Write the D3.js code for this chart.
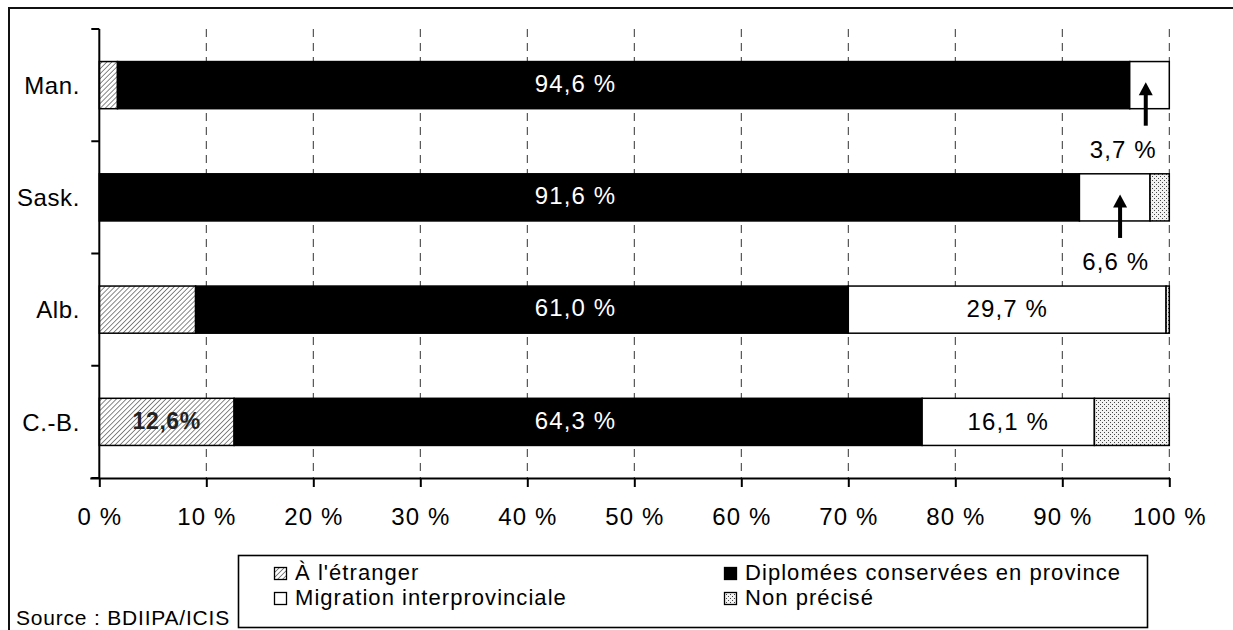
<!DOCTYPE html>
<html>
<head>
<meta charset="utf-8">
<script src="https://cdn.jsdelivr.net/npm/d3@7"></script>
<style>
  html, body { margin: 0; padding: 0; background: #fff; }
  svg { display: block; font-family: "Liberation Sans", Arial, sans-serif; }
</style>
</head>
<body>
<svg id="chart" width="1233" height="630"></svg>
<script>
// Provinces (top to bottom) and the share of graduates in each destination (%)
const provinces = ["Man.", "Sask.", "Alb.", "C.-B."];
const etranger    = [1.7, 0.0, 9.0, 12.6];
const conservees  = [94.6, 91.6, 61.0, 64.3];
const migration   = [3.7, 6.6, 29.7, 16.1];
const nonPrecise  = [0.0, 1.8, 0.3, 7.0];

const seriesKeys   = ["etranger", "conservees", "migration", "nonPrecise"];
const seriesNames  = ["À l'étranger", "Diplomées conservées en province",
                      "Migration interprovinciale", "Non précisé"];
const xTickValues  = [0, 10, 20, 30, 40, 50, 60, 70, 80, 90, 100];
const xTickLabels  = ["0 %", "10 %", "20 %", "30 %", "40 %", "50 %",
                      "60 %", "70 %", "80 %", "90 %", "100 %"];
const sourceText   = "Source : BDIIPA/ICIS";

const fmt = v => v.toFixed(1).replace(".", ",");

const rows = provinces.map((p, i) => ({
  province: p,
  etranger: etranger[i],
  conservees: conservees[i],
  migration: migration[i],
  nonPrecise: nonPrecise[i]
}));

const FS = 24, LS = 1.1;

const svg = d3.select("#chart");

// Fill patterns
const defs = svg.append("defs");
const hatch = defs.append("pattern")
  .attr("id", "hatch").attr("patternUnits", "userSpaceOnUse")
  .attr("width", 3.5).attr("height", 3.5)
  .attr("patternTransform", "rotate(45)");
hatch.append("rect").attr("width", 3.5).attr("height", 3.5).attr("fill", "#fff");
hatch.append("line").attr("x1", 0).attr("y1", 0).attr("x2", 0).attr("y2", 3.5)
  .attr("stroke", "#555").attr("stroke-width", 1.4);

const dots = defs.append("pattern")
  .attr("id", "dots").attr("patternUnits", "userSpaceOnUse")
  .attr("width", 4).attr("height", 4);
dots.append("rect").attr("width", 4).attr("height", 4).attr("fill", "#f2f2f2");
dots.append("rect").attr("x", 0).attr("y", 0).attr("width", 1).attr("height", 1).attr("fill", "#444");
dots.append("rect").attr("x", 2).attr("y", 2).attr("width", 1).attr("height", 1).attr("fill", "#444");

const fills = {
  etranger: "url(#hatch)",
  conservees: "#000",
  migration: "#fff",
  nonPrecise: "url(#dots)"
};

// Outer frame
svg.append("rect")
  .attr("x", 9).attr("y", 8).attr("width", 1400).attr("height", 800)
  .attr("fill", "none").attr("stroke", "#111").attr("stroke-width", 2);

// Scales
const plot = { left: 99.3, right: 1169.3, top: 29, bottom: 478 };
const x = d3.scaleLinear().domain([0, 100]).range([plot.left, plot.right]);
const y = d3.scaleBand().domain(provinces)
  .range([plot.top, plot.bottom])
  .paddingInner(0.58).paddingOuter(0.29);
const bw = y.bandwidth();

// Dashed vertical gridlines
svg.append("g").selectAll("line")
  .data(xTickValues.filter(v => v > 0))
  .join("line")
  .attr("x1", d => x(d)).attr("x2", d => x(d))
  .attr("y1", plot.top).attr("y2", plot.bottom)
  .attr("stroke", "#333").attr("stroke-width", 1)
  .attr("stroke-dasharray", "8,6");

// Stacked bars
const stack = d3.stack().keys(seriesKeys);
const layers = stack(rows);

svg.append("g").selectAll("g")
  .data(layers)
  .join("g")
  .attr("fill", d => fills[d.key])
  .selectAll("rect")
  .data(d => d.filter(s => s[1] - s[0] > 0))
  .join("rect")
  .attr("x", d => x(d[0]))
  .attr("y", d => y(d.data.province))
  .attr("width", d => x(d[1]) - x(d[0]))
  .attr("height", bw)
  .attr("stroke", "#000")
  .attr("stroke-width", 1.5);

// X axis
const xAxis = d3.axisBottom(x)
  .tickValues(xTickValues)
  .tickFormat((d, i) => xTickLabels[i])
  .tickSize(9).tickSizeOuter(0).tickPadding(21);
const gx = svg.append("g")
  .attr("transform", `translate(0,${plot.bottom})`)
  .call(xAxis);
gx.select(".domain").attr("stroke", "#000").attr("stroke-width", 2)
  .attr("d", `M${plot.left - 9},0.5H${plot.right}`);
gx.selectAll(".tick line").attr("stroke", "#000").attr("stroke-width", 2);
gx.selectAll(".tick text")
  .attr("font-size", FS).attr("letter-spacing", LS)
  .attr("font-family", "Liberation Sans, Arial, sans-serif")
  .attr("fill", "#000");

// Y axis: line with ticks on the band boundaries
const gy = svg.append("g");
gy.append("line")
  .attr("x1", plot.left).attr("x2", plot.left)
  .attr("y1", plot.top).attr("y2", plot.bottom)
  .attr("stroke", "#000").attr("stroke-width", 2);
const boundaries = d3.range(provinces.length + 1)
  .map(i => y.range()[0] + i * y.step());
gy.selectAll("line.tick")
  .data(boundaries)
  .join("line")
  .attr("class", "tick")
  .attr("x1", plot.left - 8).attr("x2", plot.left)
  .attr("y1", d => d).attr("y2", d => d)
  .attr("stroke", "#000").attr("stroke-width", 2);
gy.selectAll("text")
  .data(provinces)
  .join("text")
  .attr("x", 80)
  .attr("y", d => y(d) + bw / 2)
  .attr("dy", "0.36em")
  .attr("text-anchor", "end")
  .attr("font-size", FS).attr("letter-spacing", 0.6)
  .text(d => d);

// Labels for graduates kept in the province (white, inside the black bars)
svg.append("g").selectAll("text")
  .data(rows)
  .join("text")
  .attr("x", x(44.5))
  .attr("y", d => y(d.province) + bw / 2 - 2)
  .attr("dy", "0.36em")
  .attr("text-anchor", "middle")
  .attr("fill", "#fff")
  .attr("font-size", FS).attr("letter-spacing", LS)
  .text(d => fmt(d.conservees) + " %");

// Interprovincial migration labels inside the wide segments
const migLayer = layers[2];
svg.append("g").selectAll("text")
  .data(migLayer.filter(s => s[1] - s[0] > 10))
  .join("text")
  .attr("x", d => (x(d[0]) + x(d[1])) / 2)
  .attr("y", d => y(d.data.province) + bw / 2 - 1)
  .attr("dy", "0.36em")
  .attr("text-anchor", "middle")
  .attr("fill", "#000")
  .attr("font-size", FS).attr("letter-spacing", LS)
  .text(d => fmt(d.data.migration) + " %");

// Narrow migration segments: arrow pointing up into the bar, value below
const arrowed = [
  { province: "Man.", arrowAt: 97.8, labelAt: 95.7 },
  { province: "Sask.", arrowAt: 95.4, labelAt: 95.0 }
];
const ga = svg.append("g");
arrowed.forEach(a => {
  const row = rows.find(r => r.province === a.province);
  const ax = x(a.arrowAt);
  const tipY = y(a.province) + bw / 2 - 3;
  const bottomY = y(a.province) + bw;
  const tailY = bottomY + 17;
  ga.append("line")
    .attr("x1", ax).attr("x2", ax)
    .attr("y1", tipY + 10).attr("y2", tailY)
    .attr("stroke", "#000").attr("stroke-width", 4);
  ga.append("path")
    .attr("d", `M${ax},${tipY} L${ax - 7},${tipY + 13} L${ax + 7},${tipY + 13} Z`)
    .attr("fill", "#000");
  ga.append("text")
    .attr("x", x(a.labelAt))
    .attr("y", bottomY + 49)
    .attr("text-anchor", "middle")
    .attr("font-size", FS).attr("letter-spacing", LS)
    .text(fmt(row.migration) + " %");
});

// Foreign-destination label (bold) for the widest hatched segment
const etrLayer = layers[0];
svg.append("g").selectAll("text")
  .data(etrLayer.filter(s => s[1] - s[0] > 10))
  .join("text")
  .attr("x", d => (x(d[0]) + x(d[1])) / 2)
  .attr("y", d => y(d.data.province) + bw / 2 - 1)
  .attr("dy", "0.36em")
  .attr("text-anchor", "middle")
  .attr("font-weight", "bold")
  .attr("fill", "#222")
  .attr("font-size", 23).attr("letter-spacing", 0.6)
  .text(d => fmt(d.data.etranger) + "%");

// Legend
const legend = svg.append("g");
legend.append("rect")
  .attr("x", 238.5).attr("y", 555.5).attr("width", 909).attr("height", 72)
  .attr("fill", "#fff").attr("stroke", "#000").attr("stroke-width", 1.6);
const legendPos = [
  { col: 274, row: 580 }, { col: 724, row: 580 },
  { col: 274, row: 605 }, { col: 724, row: 605 }
];
seriesKeys.forEach((k, i) => {
  const p = legendPos[i];
  legend.append("rect")
    .attr("x", p.col + 0.5).attr("y", p.row - 12.5)
    .attr("width", 12).attr("height", 12)
    .attr("fill", fills[k]).attr("stroke", "#000").attr("stroke-width", 1.3);
  legend.append("text")
    .attr("x", p.col + 21).attr("y", p.row)
    .attr("font-size", 22).attr("letter-spacing", 1.05)
    .text(seriesNames[i]);
});

// Source note
svg.append("text")
  .attr("x", 16).attr("y", 625)
  .attr("font-size", 21).attr("letter-spacing", 0.8)
  .text(sourceText);
</script>
</body>
</html>
